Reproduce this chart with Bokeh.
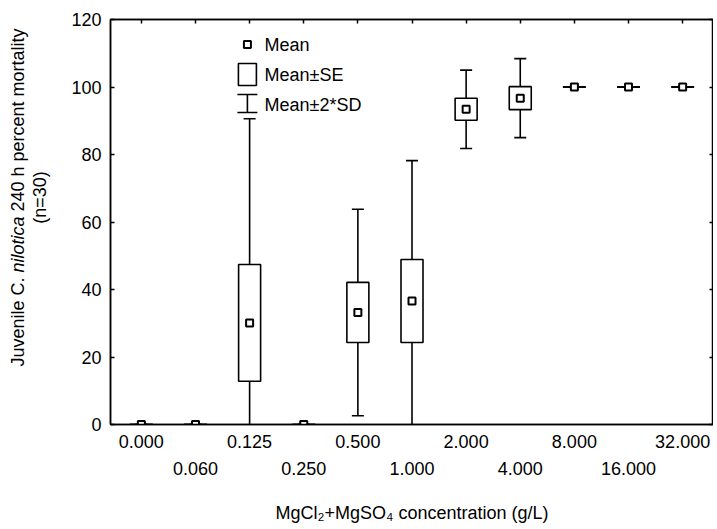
import math
from bokeh.plotting import figure
from bokeh.layouts import row
from bokeh.models import Range1d, LinearAxis, FixedTicker, Label
from bokeh.core.properties import value
from bokeh.embed import file_html
from bokeh.resources import INLINE

# ---- data ----
categories = ["0.000", "0.060", "0.125", "0.250", "0.500", "1.000",
              "2.000", "4.000", "8.000", "16.000", "32.000"]
means = [0, 0, 30.1, 0, 33.2, 36.6, 93.4, 96.7, 100, 100, 100]
se = [0, 0, 17.3, 0, 8.9, 12.3, 3.25, 3.4, 0, 0, 0]
sd2 = [0, 0, 60.5, 0, 30.6, 41.6, 11.6, 11.7, 0, 0, 0]
y_ticks = [0, 20, 40, 60, 80, 100, 120]

FONT = "Liberation Sans"
FS = "18px"

xs = list(range(len(categories)))
se_lo = [m - s for m, s in zip(means, se)]
se_hi = [m + s for m, s in zip(means, se)]
sd_lo = [m - s for m, s in zip(means, sd2)]
sd_hi = [m + s for m, s in zip(means, sd2)]
se_mid = [(a + b) / 2 for a, b in zip(se_lo, se_hi)]
se_h = [b - a for a, b in zip(se_lo, se_hi)]

X0, X1 = -0.57, len(categories) - 1 + 0.57
Y0, Y1 = 0, 120

# frame in page pixels
FL, FR, FT, FB = 110, 709, 19, 424
TW = 55          # width of the y-title strip
BOT = 102        # space below the frame
H = FB + BOT
RA = 4           # room taken by the right tick axis

p = figure(width=FR + RA - TW, height=H, output_backend="svg", toolbar_location=None,
           x_range=Range1d(X0, X1), y_range=Range1d(Y0, Y1),
           min_border_left=FL - TW, min_border_right=0, min_border_top=FT,
           min_border_bottom=BOT)
p.grid.visible = False
p.outline_line_color = "black"
p.outline_line_width = 1.5
p.background_fill_color = "white"
p.border_fill_color = "white"

def dx(px):
    return X0 + (px - FL) * (X1 - X0) / (FR - FL)
def dy(py):
    return Y0 + (FB - py) * (Y1 - Y0) / (FB - FT)

ya = p.yaxis[0]
xa = p.xaxis[0]

# y axis left
ya.ticker = FixedTicker(ticks=y_ticks)
ya.major_tick_in = 4
ya.major_tick_out = 0
ya.minor_tick_line_color = None
ya.axis_line_width = 1.5
ya.major_tick_line_width = 1.5
ya.major_label_text_font = FONT
ya.major_label_text_font_size = FS
ya.major_label_text_color = "black"
ya.major_label_standoff = 9

# bottom axis A (even categories)
even = [i for i in xs if i % 2 == 0]
odd = [i for i in xs if i % 2 == 1]
xa.ticker = FixedTicker(ticks=even)
xa.major_label_overrides = {i: categories[i] for i in even}
xa.major_tick_in = 0
xa.major_tick_out = 0
xa.minor_tick_line_color = None
xa.axis_line_width = 1.5
xa.major_label_text_font = FONT
xa.major_label_text_font_size = FS
xa.major_label_text_color = "black"
xa.major_label_standoff = 10

xb = LinearAxis(ticker=FixedTicker(ticks=odd),
                major_label_overrides={i: categories[i] for i in odd},
                axis_line_color=None, major_tick_line_color=None,
                minor_tick_line_color=None, major_label_text_font=FONT,
                major_label_text_font_size=FS, major_label_text_color="black",
                major_label_standoff=5,
                axis_label="MgCl\u2082+MgSO\u2084 concentration (g/L)",
                axis_label_text_font=FONT, axis_label_text_font_size=FS,
                axis_label_text_font_style="normal", axis_label_text_color="black",
                axis_label_standoff=25)
p.add_layout(xb, "below")

# right / top axes: inward ticks only
ra = LinearAxis(ticker=FixedTicker(ticks=y_ticks), major_tick_in=4, major_tick_out=0,
                minor_tick_line_color=None,
                major_label_overrides={t: "" for t in y_ticks},
                major_label_standoff=0, axis_line_width=1.5, major_tick_line_width=1.5)
p.add_layout(ra, "right")
ta = LinearAxis(ticker=FixedTicker(ticks=xs), major_tick_in=4, major_tick_out=0,
                minor_tick_line_color=None,
                major_label_overrides={t: "" for t in xs},
                major_label_standoff=0, axis_line_width=1.5, major_tick_line_width=1.5)
p.add_layout(ta, "above")

LW = 1.6
# whiskers
p.segment(x0=xs, y0=sd_lo, x1=xs, y1=sd_hi, line_color="black", line_width=LW)
p.scatter(x=xs + xs, y=sd_lo + sd_hi, marker="dash", size=12,
          line_color="black", line_width=LW)
# boxes
p.rect(x=xs, y=se_mid, width=22, width_units="screen", height=se_h,
       fill_color="white", line_color="black", line_width=LW)
zx = [x for x, s in zip(xs, se) if s == 0]
zy = [m for m, s in zip(means, se) if s == 0]
p.scatter(x=zx, y=zy, marker="dash", size=23, line_color="black", line_width=2.2)
# means
p.scatter(x=xs, y=means, marker="square", size=7, fill_color="white",
          line_color="black", line_width=2)

# ---- legend (drawn manually) ----
lx = dx(246)
p.scatter(x=[lx], y=[dy(44)], marker="square", size=7, fill_color="white",
          line_color="black", line_width=2)
p.rect(x=[lx], y=[dy(74)], width=18, width_units="screen", height=dy(63) - dy(85),
       fill_color="white", line_color="black", line_width=LW)
p.segment(x0=[lx], y0=[dy(112)], x1=[lx], y1=[dy(94)], line_color="black", line_width=LW)
p.scatter(x=[lx, lx], y=[dy(94), dy(112)], marker="dash", size=20,
          line_color="black", line_width=LW)
for txt, py in [("Mean", 44), ("Mean\u00b1SE", 74), ("Mean\u00b12*SD", 104)]:
    p.add_layout(Label(x=dx(263), y=dy(py), text=txt, text_font=FONT,
                       text_font_size=FS, text_baseline="middle", text_align="left",
                       text_color="black"))

# ---- y title strip (separate figure, same vertical frame) ----
yt = figure(width=TW, height=H, output_backend="svg", toolbar_location=None,
            x_range=Range1d(0, TW), y_range=Range1d(Y0, Y1),
            x_axis_type=None, y_axis_type=None,
            min_border_left=0, min_border_right=0,
            min_border_top=FT, min_border_bottom=BOT)
yt.grid.visible = False
yt.outline_line_color = None
yt.background_fill_color = "white"
yt.border_fill_color = "white"

fs = 18.0
w1 = 4.946 * fs   # "Juvenile C."
wsp = 0.278 * fs
w2 = 3.112 * fs   # "nilotica"
total = w1 + wsp + w2 + wsp + 10.171 * fs
cy = 197          # page y of the title's centre
y_start = cy + total / 2
pieces = [("Juvenile C.", "normal", y_start),
          ("nilotica", "italic", y_start - w1 - wsp),
          ("240 h percent mortality", "normal", y_start - w1 - wsp - w2 - wsp)]
for txt, style, py in pieces:
    yt.text(x=[17], y=[dy(py)], text=[txt], text_font=value(FONT),
            text_font_size=value(FS), text_font_style=style, angle=math.pi / 2,
            text_align="left", text_baseline="middle", text_color="black")
yt.text(x=[39], y=[dy(cy)], text=["(n=30)"], text_font=value(FONT),
        text_font_size=value(FS), angle=math.pi / 2, text_align="center",
        text_baseline="middle", text_color="black")

layout = row(yt, p, spacing=0)
open("out.html", "w").write(file_html(layout, INLINE))
